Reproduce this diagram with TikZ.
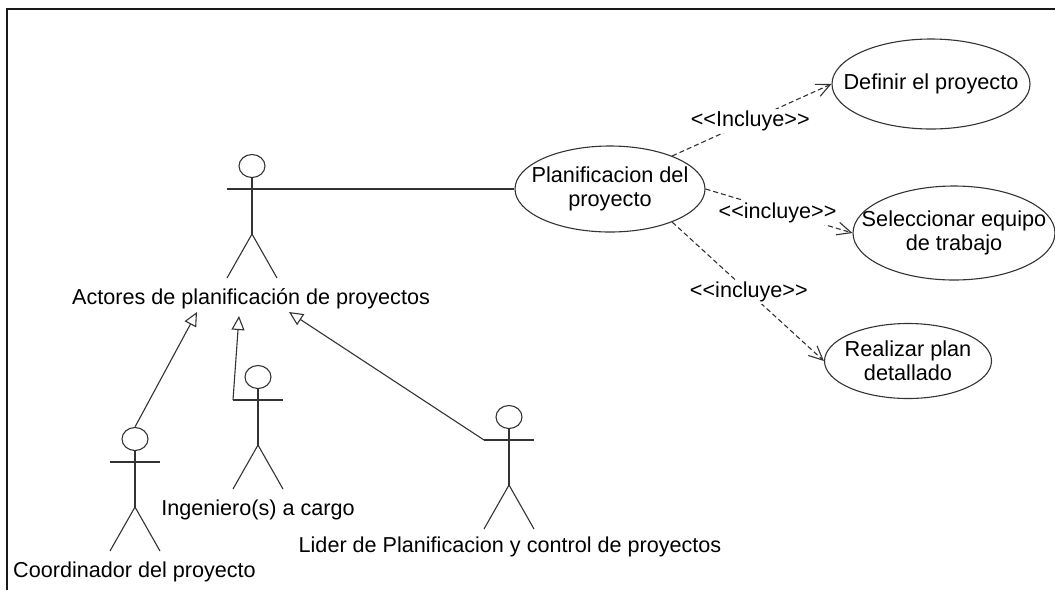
\documentclass[tikz,border=0pt]{standalone}
\usepackage{fontspec}
\setmainfont{Liberation Sans}
\usetikzlibrary{arrows.meta}
\usetikzlibrary{shapes.geometric}

\tikzset{
  linea/.style={line width=1.1pt, black!80},
  caso/.style={ellipse, draw, linea, inner xsep=-40pt, inner ysep=-10pt, align=center, text=black, font=\fontsize{21.7}{24}\selectfont},
  cabeza/.style={ellipse, draw, linea, inner sep=0pt, minimum width=26pt, minimum height=23pt},
  rotulo/.style={inner sep=0pt, font=\fontsize{21.6}{24}\selectfont},
  etiqueta/.style={fill=white, inner xsep=0pt, inner ysep=2pt, text=black, font=\fontsize{21.6}{24}\selectfont},
  incluye/.style={linea, dash pattern=on 5pt off 3pt, -{Straight Barb[length=14pt,width=13pt]}},
  hereda/.style={linea, -{Triangle[open,length=14pt,width=13pt,fill=white]}}
}

\begin{document}
\begin{tikzpicture}[x=1pt, y=-1pt]
  \useasboundingbox (0,0) rectangle (1055,590);
  \draw[line width=2pt, black!90] (6.5,590) -- (6.5,8.5) -- (1055,8.5);

  \foreach \nombre/\x/\y in {actores/252/166, coordinador/135/439, ingeniero/258/377, lider/509/417} {
    \node[cabeza] (\nombre) at (\x,\y) {};
    \coordinate (\nombre-izq) at (\x-25,\y+23);
    \coordinate (\nombre-der) at (\x+25,\y+23);
    \coordinate (\nombre-cad) at (\x,\y+68);
    \coordinate (\nombre-pie1) at (\x-25,\y+112);
    \coordinate (\nombre-pie2) at (\x+25,\y+112);
    \draw[linea] (\nombre) -- (\nombre-cad);
    \draw[linea] (\nombre-izq) -- (\nombre-der);
    \draw[linea] (\nombre-pie1) -- (\nombre-cad) -- (\nombre-pie2);
  }

  \node[rotulo] (t-actores) at (251,299) {Actores de planificación de proyectos};
  \node[rotulo] (t-coordinador) at (134.5,572) {Coordinador del proyecto};
  \node[rotulo] (t-ingeniero) at (258,510) {Ingeniero(s) a cargo};
  \node[rotulo] (t-lider) at (510,547) {Lider de Planificacion y control de proyectos};

  \node[caso, minimum width=190pt, minimum height=86pt] (plan) at (610,189) {Planificacion del\\proyecto};
  \node[caso, minimum width=198pt, minimum height=90pt] (definir) at (931,84) {Definir el proyecto};
  \node[caso, minimum width=202pt, minimum height=94pt] (seleccionar) at (954,233) {Seleccionar equipo\\de trabajo};
  \node[caso, minimum width=167pt, minimum height=75pt] (realizar) at (908,361) {Realizar plan\\detallado};

  \draw[linea] (actores-der) -- (plan.west);

  \draw[incluye] (plan.28) -- node[etiqueta, pos=0.49] (i1) {{<}{<}Incluye{>}{>}} (definir.west);
  \draw[incluye] (plan.east) -- node[etiqueta, pos=0.49, yshift=-2pt] (i2) {{<}{<}incluye{>}{>}} (seleccionar.west);
  \draw[incluye] (plan.-28) -- node[etiqueta, pos=0.505] (i3) {{<}{<}incluye{>}{>}} (realizar.west);

  \coordinate (punta1) at (197,312);
  \coordinate (punta2) at (239,316);
  \coordinate (punta3) at (289,312);
  \draw[hereda] (coordinador.north) -- (punta1);
  \draw[hereda] (ingeniero-izq) -- (punta2);
  \draw[hereda] (lider-izq) -- (punta3);
\end{tikzpicture}
\end{document}
